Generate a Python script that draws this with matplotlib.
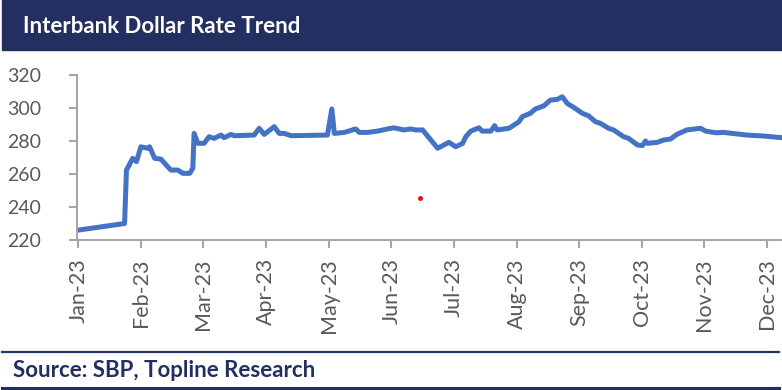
import matplotlib.pyplot as plt
from matplotlib.patches import Rectangle
from matplotlib.lines import Line2D

# month position (0 = Jan-23, 1 = Feb-23, ...) and PKR/USD interbank rate
month_pos = [
    0.00, 0.37, 0.74, 0.77, 0.87, 0.93, 1.00, 1.11, 1.14, 1.22, 1.32, 1.43, 1.48,
    1.59, 1.67, 1.78, 1.83, 1.85, 1.91, 2.01, 2.09, 2.17, 2.28, 2.33, 2.44, 2.49,
    2.81, 2.89, 2.97, 3.13, 3.21, 3.29, 3.40, 3.98, 4.05, 4.09, 4.25, 4.43, 4.49,
    4.62, 4.78, 4.94, 5.04, 5.20, 5.31, 5.39, 5.50, 5.74, 5.92, 6.03, 6.14, 6.19,
    6.27, 6.40, 6.45, 6.59, 6.65, 6.69, 6.88, 7.04, 7.09, 7.22, 7.30, 7.44, 7.54,
    7.65, 7.73, 7.81, 7.92, 8.05, 8.15, 8.26, 8.34, 8.47, 8.55, 8.71, 8.79, 8.93,
    9.01, 9.06, 9.09, 9.25, 9.35, 9.46, 9.56, 9.72, 9.94, 10.02, 10.18, 10.31,
    10.68, 10.95, 11.24,
]
rate = [
    226.0, 228.0, 230.0, 262.4, 269.5, 267.5, 276.5, 275.6, 276.5, 269.5, 269.0, 264.4, 262.4,
    262.4, 260.4, 260.4, 263.5, 284.6, 278.6, 278.6, 282.6, 281.6, 283.6, 282.0, 284.0, 283.2,
    283.6, 287.7, 284.0, 288.7, 284.6, 284.6, 283.2, 283.6, 299.4, 284.6, 285.2, 287.3, 285.2,
    285.2, 286.0, 287.3, 288.0, 286.7, 287.3, 286.7, 286.7, 275.6, 279.2, 276.5, 278.6, 282.6,
    286.0, 288.0, 286.0, 286.0, 289.3, 286.7, 287.7, 291.7, 294.7, 296.8, 299.4, 301.4, 304.8,
    305.2, 306.8, 302.8, 300.2, 296.8, 295.3, 291.7, 290.7, 287.7, 286.7, 282.6, 281.6, 277.6,
    277.2, 280.0, 278.6, 279.2, 280.6, 281.2, 284.0, 286.7, 287.7, 286.0, 285.0, 285.2,
    283.6, 283.0, 282.0,
]

# stray red point in the source chart
stray_x = [5.46]
stray_y = [245.3]

month_labels = ["Jan-23", "Feb-23", "Mar-23", "Apr-23", "May-23", "Jun-23",
                "Jul-23", "Aug-23", "Sep-23", "Oct-23", "Nov-23", "Dec-23"]
y_ticks = [220, 240, 260, 280, 300, 320]

navy = "#232F61"
gray = "#595959"
axis_gray = "#A6A6A6"

fig = plt.figure(figsize=(7.82, 3.90), dpi=100)
W, H = 782, 390

# header bar
fig.patches.append(Rectangle((2 / W, 1 - 50 / H), 780 / W, 50 / H,
                             transform=fig.transFigure, color=navy, zorder=0))
fig.text(23 / W, 1 - 33 / H, "Interbank Dollar Rate Trend", color="white",
         fontsize=16, fontweight="bold", family="Lato", va="baseline", ha="left")

# footer
fig.add_artist(Line2D([2 / W, 779 / W], [1 - 352 / H, 1 - 352 / H],
                      transform=fig.transFigure, color="#1F3864", lw=1.6))
fig.add_artist(Line2D([2 / W, 779 / W], [1 - 388 / H, 1 - 388 / H],
                      transform=fig.transFigure, color=navy, lw=2.2))
fig.text(13 / W, 1 - 377 / H, "Source: SBP, Topline Research", color=navy,
         fontsize=16, fontweight="bold", family="Lato", va="baseline", ha="left")

ax = fig.add_axes([77 / W, 1 - 240 / H, (782 - 77) / W, (240 - 75) / H])
ax.plot(month_pos, rate, color="#4472C4", lw=3.6, solid_joinstyle="round",
        solid_capstyle="round", clip_on=True)
ax.plot(stray_x, stray_y, "o", color="red", ms=2.5)

ax.set_xlim(-0.02, 11.24)
ax.set_ylim(220, 320)
ax.set_xticks(range(12))
ax.set_xticklabels(month_labels, rotation=90, family="Lato", fontsize=15.5, color=gray)
ax.set_yticks(y_ticks)
ax.set_yticklabels([str(v) for v in y_ticks], family="Lato", fontsize=14, color=gray)
ax.tick_params(axis="x", length=6, width=1.5, color=axis_gray, pad=7)
ax.tick_params(axis="y", length=6, width=1.5, color=axis_gray, pad=20)

for side in ["top", "right"]:
    ax.spines[side].set_visible(False)
for side in ["left", "bottom"]:
    ax.spines[side].set_color(axis_gray)
    ax.spines[side].set_linewidth(1.5)

fig.savefig("out.png", dpi=100)
